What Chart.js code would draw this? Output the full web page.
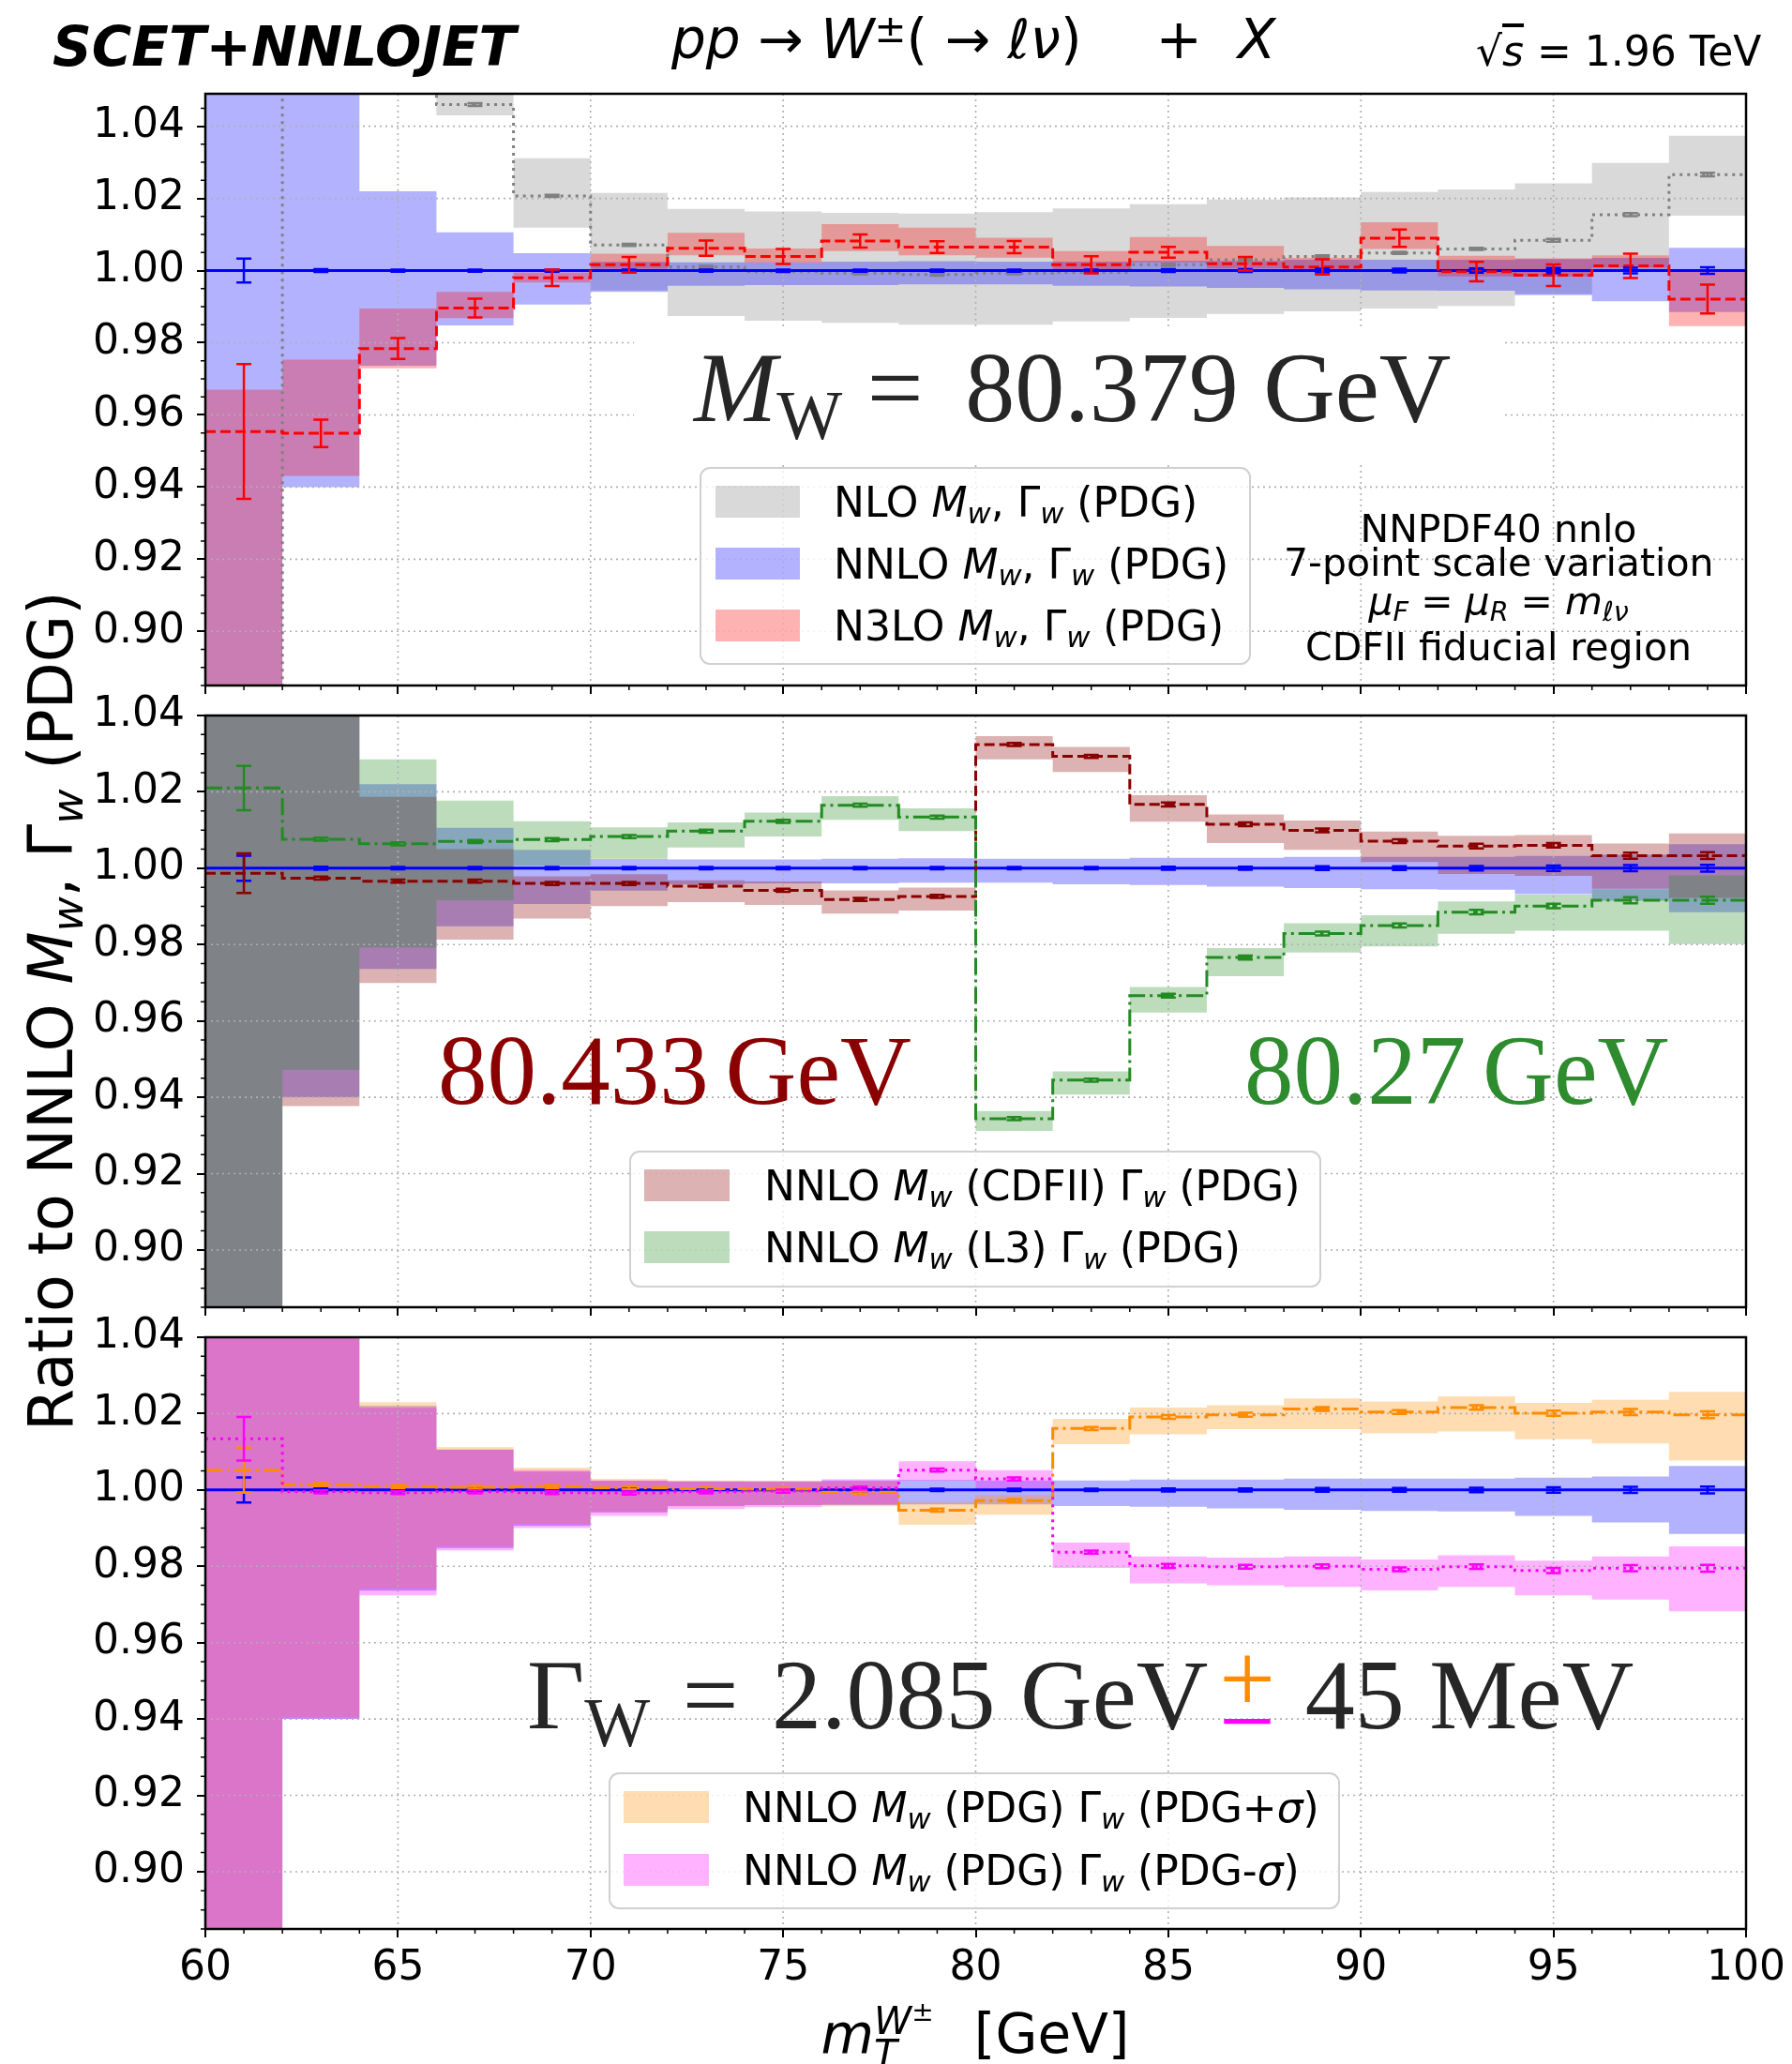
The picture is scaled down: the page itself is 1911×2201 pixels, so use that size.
<!DOCTYPE html>
<html>
<head>
<meta charset="utf-8">
<script src="https://cdn.jsdelivr.net/npm/chart.js@4.4.1/dist/chart.umd.min.js"></script>
<style>
html,body{margin:0;padding:0;background:#fff}
#fig{position:relative;width:1911px;height:2201px;overflow:hidden;background:#fff;font-family:'DejaVu Sans',sans-serif;color:#000}
#fig canvas{position:absolute;left:0}
.txt{position:absolute;white-space:nowrap;line-height:1}
.bl{display:inline-block;width:0;height:0;vertical-align:baseline}
.sub{font-size:0.7em;position:relative;top:0.24em;line-height:0}
.sup{font-size:0.7em;position:relative;top:-0.42em;line-height:0}
.serif{font-family:'Liberation Serif','DejaVu Serif',serif}
.serif .sub{top:0.26em}
.thin{margin-left:0.17em}
.box{position:absolute;box-sizing:border-box}
.legend{border:2px solid #d0d0d0;border-radius:11px;background:rgba(255,255,255,0.8)}
.stk{display:inline-block;position:relative;height:0;vertical-align:baseline}
.stk>i{position:absolute;left:0;line-height:1;font-size:40.6px}
</style>
</head>
<body>
<div id="fig"></div>
<script>
// ---------- binning and axis ticks ----------
const binEdges   = [60,62,64,66,68,70,72,74,76,78,80,82,84,86,88,90,92,94,96,98,100];
const binCenters = [61,63,65,67,69,71,73,75,77,79,81,83,85,87,89,91,93,95,97,99];
const xTickValues = [60,65,70,75,80,85,90,95,100];
const yTickValues = [0.90,0.92,0.94,0.96,0.98,1.00,1.02,1.04];

// ---------- NNLO, M_W and Gamma_W from PDG (reference) ----------
const nnloCentral = [1,1,1,1,1,1,1,1,1,1,1,1,1,1,1,1,1,1,1,1];
const nnloLow  = [0.800,0.940,0.9736,0.9848,0.9906,0.9941,0.9958,0.9960,0.9960,0.9962,0.9962,0.9958,0.9956,0.9952,0.9948,0.9945,0.9944,0.9932,0.9915,0.9885];
const nnloHigh = [1.100,1.070,1.0220,1.0106,1.0048,1.0024,1.0023,1.0023,1.0025,1.0026,1.0025,1.0025,1.0027,1.0027,1.0030,1.0030,1.0030,1.0032,1.0035,1.0063];
const nnloStat = [0.0033,0.0004,0.0003,0.0003,0.0003,0.0003,0.0003,0.0003,0.0003,0.0003,0.0003,0.0003,0.0004,0.0004,0.0005,0.0005,0.0006,0.0007,0.0008,0.0009];

// ---------- NLO ----------
const nloCentral = [0.800,1.120,1.075,1.046,1.0207,1.0071,1.0010,0.9997,0.9993,0.9989,0.9993,0.9995,1.0016,1.0030,1.0039,1.0049,1.0060,1.0084,1.0155,1.0266];
const nloLow  = [0.750,1.080,1.055,1.043,1.0119,0.9945,0.9874,0.9861,0.9855,0.9850,0.9850,0.9859,0.9869,0.9880,0.9887,0.9895,0.9902,0.9935,1.0000,1.0152];
const nloHigh = [0.850,1.160,1.100,1.065,1.0311,1.0215,1.0171,1.0164,1.0160,1.0158,1.0162,1.0172,1.0184,1.0197,1.0203,1.0218,1.0225,1.0242,1.0298,1.0374];
const nloStat = [0.002,0.001,0.0006,0.0004,0.0003,0.0003,0.0003,0.0003,0.0003,0.0003,0.0003,0.0003,0.0003,0.0003,0.0003,0.0003,0.0003,0.0004,0.0004,0.0005];

// ---------- N3LO ----------
const n3loCentral = [0.9554,0.9549,0.9784,0.9896,0.9980,1.0016,1.0062,1.0039,1.0082,1.0065,1.0065,1.0016,1.0051,1.0019,1.0010,1.0090,0.9997,0.9987,1.0013,0.9921];
const n3loLow  = [0.800,0.9431,0.9729,0.9868,0.9967,1.0005,1.0042,1.0022,1.0054,1.0042,1.0036,1.0003,1.0023,1.0006,1.0002,1.0060,0.9984,0.9984,1.0008,0.9846];
const n3loHigh = [0.967,0.9753,0.9895,0.9941,0.9995,1.0047,1.0105,1.0061,1.0129,1.0119,1.0091,1.0054,1.0093,1.0068,1.0035,1.0134,1.0041,1.0034,1.0042,0.9997];
const n3loStat = [0.0187,0.0038,0.0029,0.0026,0.0023,0.0022,0.0021,0.0021,0.0018,0.0016,0.0017,0.0024,0.0015,0.0019,0.0021,0.0024,0.0027,0.0030,0.0034,0.0040];

// ---------- NNLO, M_W (CDFII) ----------
const cdfCentral = [0.9987,0.9974,0.9966,0.9966,0.9960,0.9960,0.9953,0.9942,0.9918,0.9926,1.0324,1.0293,1.0167,1.0115,1.0099,1.0071,1.0058,1.0060,1.0033,1.0033];
const cdfLow  = [0.850,0.9377,0.9699,0.9813,0.9868,0.9901,0.9911,0.9904,0.9881,0.9889,1.0285,1.0252,1.0122,1.0066,1.0048,1.0016,0.9985,0.9980,0.9946,0.9922];
const cdfHigh = [1.100,1.060,1.0187,1.0050,0.9979,0.9984,0.9968,0.9965,0.9942,0.9949,1.0346,1.0318,1.0191,1.0141,1.0125,1.0096,1.0085,1.0087,1.0065,1.0091];
const cdfStat = [0.0052,0.0004,0.0004,0.0004,0.0004,0.0004,0.0004,0.0004,0.0004,0.0004,0.0004,0.0004,0.0005,0.0005,0.0005,0.0005,0.0006,0.0006,0.0008,0.0009];

// ---------- NNLO, M_W (L3) ----------
const l3Central = [1.0210,1.0076,1.0064,1.0070,1.0075,1.0083,1.0097,1.0123,1.0165,1.0134,0.9344,0.9445,0.9666,0.9766,0.9829,0.9850,0.9885,0.9901,0.9916,0.9916];
const l3Low  = [0.850,0.9472,0.9792,0.9916,1.0007,1.0025,1.0054,1.0083,1.0127,1.0097,0.9312,0.9407,0.9622,0.9717,0.9779,0.9795,0.9828,0.9836,0.9836,0.9801];
const l3High = [1.100,1.060,1.0285,1.0177,1.0123,1.0107,1.0120,1.0146,1.0189,1.0157,0.9364,0.9468,0.9689,0.9791,0.9856,0.9877,0.9913,0.9931,0.9945,0.9981];
const l3Stat = [0.0058,0.0004,0.0004,0.0004,0.0004,0.0004,0.0004,0.0004,0.0004,0.0004,0.0004,0.0004,0.0005,0.0005,0.0005,0.0005,0.0006,0.0006,0.0008,0.0009];

// ---------- NNLO, Gamma_W (PDG + sigma) ----------
const wPlusCentral = [1.0052,1.0014,1.0009,1.0007,1.0009,1.0006,1.0003,1.0002,0.9994,0.9947,0.9972,1.0161,1.0191,1.0197,1.0212,1.0204,1.0216,1.0201,1.0204,1.0197];
const wPlusLow  = [0.850,0.9405,0.9742,0.9852,0.9911,0.9942,0.9957,0.9960,0.9957,0.9909,0.9935,1.0120,1.0146,1.0159,1.0159,1.0148,1.0153,1.0133,1.0122,1.0077];
const wPlusHigh = [1.100,1.070,1.0230,1.0112,1.0058,1.0029,1.0025,1.0024,1.0022,0.9968,0.9987,1.0186,1.0216,1.0222,1.0240,1.0232,1.0245,1.0228,1.0236,1.0257];
const wPlusStat = [0.0059,0.0004,0.0004,0.0004,0.0004,0.0004,0.0004,0.0004,0.0004,0.0004,0.0004,0.0004,0.0005,0.0005,0.0005,0.0005,0.0006,0.0007,0.0008,0.0009];

// ---------- NNLO, Gamma_W (PDG - sigma) ----------
const wMinusCentral = [1.0134,0.9995,0.9993,0.9995,0.9993,0.9992,0.9995,0.9997,1.0005,1.0052,1.0029,0.9837,0.9801,0.9799,0.9800,0.9792,0.9799,0.9789,0.9795,0.9795];
const wMinusLow  = [0.850,0.9400,0.9724,0.9842,0.9900,0.9932,0.9950,0.9955,0.9962,1.0024,0.9999,0.9796,0.9755,0.9750,0.9746,0.9737,0.9746,0.9724,0.9713,0.9682];
const wMinusHigh = [1.100,1.060,1.0215,1.0105,1.0052,1.0025,1.0022,1.0021,1.0028,1.0075,1.0052,0.9862,0.9826,0.9823,0.9826,0.9818,0.9829,0.9815,0.9826,0.9852];
const wMinusStat = [0.0057,0.0004,0.0004,0.0004,0.0004,0.0004,0.0004,0.0004,0.0004,0.0004,0.0004,0.0004,0.0005,0.0005,0.0005,0.0005,0.0006,0.0007,0.0008,0.0009];

// ---------- styles ----------
const FONT = "'DejaVu Sans', sans-serif";
const DOTTED = [3, 5], DASHED = [11, 5], DASHDOT = [18, 5, 3, 5];
const MW = '<i>M</i><span class="sub"><i>w</i></span>';
const GW = 'Γ<span class="sub"><i>w</i></span>';

const nlo  = { label: 'NLO ' + MW + ', ' + GW + ' (PDG)',  central: nloCentral,  low: nloLow,  high: nloHigh,  stat: nloStat,  line: '#808080', band: 'rgba(128,128,128,0.3)', dash: DOTTED };
const nnlo = { label: 'NNLO ' + MW + ', ' + GW + ' (PDG)', central: nnloCentral, low: nnloLow, high: nnloHigh, stat: nnloStat, line: '#0000ff', band: 'rgba(0,0,255,0.3)', dash: [] };
const n3lo = { label: 'N3LO ' + MW + ', ' + GW + ' (PDG)', central: n3loCentral, low: n3loLow, high: n3loHigh, stat: n3loStat, line: '#ff0000', band: 'rgba(255,0,0,0.3)', dash: DASHED };
const cdf  = { label: 'NNLO ' + MW + ' (CDFII) ' + GW + ' (PDG)', central: cdfCentral, low: cdfLow, high: cdfHigh, stat: cdfStat, line: '#8b0000', band: 'rgba(139,0,0,0.3)', dash: DASHED };
const l3   = { label: 'NNLO ' + MW + ' (L3) ' + GW + ' (PDG)',    central: l3Central,  low: l3Low,  high: l3High,  stat: l3Stat,  line: '#228b22', band: 'rgba(34,139,34,0.3)', dash: DASHDOT };
const wPlus  = { label: 'NNLO ' + MW + ' (PDG) ' + GW + ' (PDG+<i>σ</i>)', central: wPlusCentral,  low: wPlusLow,  high: wPlusHigh,  stat: wPlusStat,  line: '#ff8c00', band: 'rgba(255,140,0,0.3)', dash: DASHDOT };
const wMinus = { label: 'NNLO ' + MW + ' (PDG) ' + GW + ' (PDG-<i>σ</i>)', central: wMinusCentral, low: wMinusLow, high: wMinusHigh, stat: wMinusStat, line: '#ff00ff', band: 'rgba(255,0,255,0.3)', dash: DOTTED };

const fig = document.getElementById('fig');

// ---------- chart helpers ----------
function stepPoints(values) {
  return binEdges.map((x, i) => ({ x, y: values[Math.min(i, values.length - 1)] }));
}
function bandSets(s) {
  const base = { stepped: true, borderWidth: 0, borderColor: 'rgba(0,0,0,0)', pointRadius: 0, tension: 0 };
  return [
    Object.assign({ data: stepPoints(s.low), fill: false }, base),
    Object.assign({ data: stepPoints(s.high), fill: '-1', backgroundColor: s.band }, base)
  ];
}
function lineSet(s) {
  return { data: stepPoints(s.central), stepped: true, borderWidth: 3, borderColor: s.line, borderDash: s.dash,
           pointRadius: 0, tension: 0, fill: false };
}

function drawGrid(chart) {
  const { ctx, chartArea: a, scales: { x, y } } = chart;
  ctx.save();
  ctx.strokeStyle = '#b0b0b0'; ctx.lineWidth = 1.6; ctx.setLineDash([2, 4]);
  ctx.beginPath();
  xTickValues.forEach(v => {
    if (v <= x.min || v >= x.max) return;
    const px = x.getPixelForValue(v);
    ctx.moveTo(px, a.top); ctx.lineTo(px, a.bottom);
  });
  yTickValues.forEach(v => {
    if (v <= y.min || v >= y.max) return;
    const py = y.getPixelForValue(v);
    ctx.moveTo(a.left, py); ctx.lineTo(a.right, py);
  });
  ctx.stroke();
  ctx.restore();
}

function drawErrorBars(chart, series) {
  const { ctx, chartArea: a, scales: { x, y } } = chart;
  const cap = 8;
  ctx.save();
  ctx.beginPath(); ctx.rect(a.left, a.top, a.right - a.left, a.bottom - a.top); ctx.clip();
  ctx.setLineDash([]); ctx.lineWidth = 2.5;
  series.forEach(s => {
    ctx.strokeStyle = s.line;
    ctx.beginPath();
    s.central.forEach((c, i) => {
      const px = x.getPixelForValue(binCenters[i]);
      const y1 = y.getPixelForValue(c - s.stat[i]);
      const y2 = y.getPixelForValue(c + s.stat[i]);
      ctx.moveTo(px, y1); ctx.lineTo(px, y2);
      ctx.moveTo(px - cap, y1); ctx.lineTo(px + cap, y1);
      ctx.moveTo(px - cap, y2); ctx.lineTo(px + cap, y2);
    });
    ctx.stroke();
  });
  ctx.restore();
}

function drawMinorTicksAndFrame(chart) {
  const { ctx, chartArea: a, scales: { x, y } } = chart;
  ctx.save();
  ctx.strokeStyle = '#000'; ctx.setLineDash([]); ctx.lineWidth = 1.5;
  ctx.beginPath();
  for (let k = Math.ceil(y.min / 0.005 - 1e-6); k * 0.005 <= y.max + 1e-6; k++) {
    if (k % 4 === 0) continue;
    const py = y.getPixelForValue(k * 0.005);
    ctx.moveTo(a.left - 5, py); ctx.lineTo(a.left, py);
  }
  for (let v = Math.ceil(x.min); v <= x.max; v++) {
    if (v % 5 === 0) continue;
    const px = x.getPixelForValue(v);
    ctx.moveTo(px, a.bottom); ctx.lineTo(px, a.bottom + 5);
  }
  ctx.stroke();
  ctx.lineWidth = 2.5;
  ctx.strokeRect(a.left, a.top, a.right - a.left, a.bottom - a.top);
  ctx.restore();
}

function makePanel(p) {
  const canvas = document.createElement('canvas');
  canvas.width = 1911; canvas.height = p.height;
  canvas.style.top = p.top + 'px';
  canvas.style.width = '1911px'; canvas.style.height = p.height + 'px';
  fig.appendChild(canvas);

  const datasets = [];
  p.series.forEach(s => datasets.push(...bandSets(s)));
  const firstLine = datasets.length;
  p.series.forEach(s => datasets.push(lineSet(s)));
  // lower index is painted first
  datasets.forEach((d, i) => { d.order = datasets.length - i; });

  const tickFont = { family: FONT, size: 44 };
  const gridOpts = { drawOnChartArea: false, drawTicks: true, tickLength: 9, tickWidth: 2, tickColor: '#000', lineWidth: 2, color: '#000' };

  new Chart(canvas, {
    type: 'line',
    data: { datasets },
    options: {
      responsive: false, animation: false, devicePixelRatio: 1, events: [],
      layout: { padding: { top: p.padTop, right: 49, bottom: 0, left: 0 } },
      plugins: { legend: { display: false }, tooltip: { enabled: false } },
      scales: {
        x: {
          type: 'linear', min: 60, max: 100,
          afterBuildTicks: s => { s.ticks = xTickValues.map(v => ({ value: v })); },
          afterFit: s => { s.height = p.xAxisH; },
          ticks: { display: p.showX, autoSkip: false, maxRotation: 0, minRotation: 0, padding: 7, color: '#000', font: tickFont, callback: v => String(v) },
          grid: gridOpts, border: { display: false }
        },
        y: {
          type: 'linear', min: p.yMin, max: p.yMax,
          afterBuildTicks: s => { s.ticks = yTickValues.map(v => ({ value: v })); },
          afterFit: s => { s.width = 219; },
          ticks: { autoSkip: false, padding: 13, color: '#000', font: tickFont, callback: v => Number(v).toFixed(2) },
          grid: gridOpts, border: { display: false }
        }
      }
    },
    plugins: [{
      id: 'panelDecor',
      beforeDatasetDraw(chart, args) { if (args.index === firstLine) drawGrid(chart); },
      afterDatasetsDraw(chart) { drawErrorBars(chart, p.series); },
      afterDraw(chart) { drawMinorTicksAndFrame(chart); }
    }]
  });
}

makePanel({ top: 0,    height: 771, padTop: 100, xAxisH: 40, yMin: 0.885, yMax: 1.049, showX: false, series: [nlo, nnlo, n3lo] });
makePanel({ top: 723,  height: 711, padTop: 40,  xAxisH: 40, yMin: 0.885, yMax: 1.040, showX: false, series: [nnlo, cdf, l3] });
makePanel({ top: 1386, height: 770, padTop: 40,  xAxisH: 99, yMin: 0.885, yMax: 1.040, showX: true,  series: [nnlo, wPlus, wMinus] });

// ---------- text ----------
function putText(html, x, baseline, o) {
  const el = document.createElement('div');
  el.className = 'txt' + (o.cls ? ' ' + o.cls : '');
  el.style.fontSize = o.size + 'px';
  if (o.color) el.style.color = o.color;
  if (o.weight) el.style.fontWeight = o.weight;
  if (o.italic) el.style.fontStyle = 'italic';
  el.innerHTML = html + '<span class="bl"></span>';
  el.style.left = '0px'; el.style.top = '0px';
  fig.appendChild(el);
  const b = el.querySelector('.bl').offsetTop;
  const w = el.offsetWidth;
  let left = x;
  if (o.align === 'center') left = x - w / 2;
  else if (o.align === 'right') left = x - w;
  el.style.left = left + 'px';
  el.style.top = (baseline - b) + 'px';
  return { el, left, top: baseline - b };
}

function addBox(cls, l, t, r, b, bg) {
  const d = document.createElement('div');
  d.className = 'box ' + cls;
  Object.assign(d.style, { left: l + 'px', top: t + 'px', width: (r - l) + 'px', height: (b - t) + 'px' });
  if (bg) d.style.background = bg;
  fig.appendChild(d);
  return d;
}

function buildLegend(g, series) {
  addBox('legend', g.left, g.top, g.right, g.bottom);
  series.forEach((s, i) => {
    const cy = g.rows[i];
    addBox('', g.swX, cy - 17, g.swX + g.swW, cy + 17, s.band);
    putText(s.label, g.textX, cy + 16, { size: 44 });
  });
}

// header
putText('SCET+NNLOJET', 56, 70, { size: 58, weight: 'bold', italic: true });
putText('<i>pp</i> → <i>W</i><span class="sup">±</span>( → <i>ℓν</i>)', 716, 62, { size: 58 });
putText('+', 1257, 62, { size: 59, align: 'center' });
putText('<i>X</i>', 1320, 62, { size: 59 });
putText('√<i style="text-decoration:overline">s</i> = 1.96 TeV', 1878, 70, { size: 44, align: 'right' });

// axis titles
const yl = putText('Ratio to NNLO ' + MW + ', ' + GW + ' (PDG)', 77, 1078, { size: 65, align: 'center' });
yl.el.style.transformOrigin = (77 - yl.left) + 'px ' + (1078 - yl.top) + 'px';
yl.el.style.transform = 'rotate(-90deg)';
putText('<i>m</i><span class="stk" style="width:70px"><i style="top:-54px">W<span style="font-size:28px;position:relative;top:-14px;line-height:0">±</span></i><i style="top:-19px">T</i></span>&nbsp;&nbsp;[GeV]',
        1040, 2189, { size: 58, align: 'center' });

// top panel annotations
addBox('', 676, 350, 1604, 493, '#fff');
putText('<i>M</i><span class="sub">W</span> = <span style="margin-left:18px">80.379</span> GeV', 740, 449, { size: 106, cls: 'serif', color: '#262626' });
buildLegend({ left: 746, top: 498, right: 1334, bottom: 709, swX: 763, swW: 90, textX: 889, rows: [535, 601, 667] }, [nlo, nnlo, n3lo]);
putText('NNPDF40 nnlo', 1598, 578, { size: 41, align: 'center' });
putText('7-point scale variation', 1598, 614, { size: 41, align: 'center' });
putText('<i>μ</i><span class="sub"><i>F</i></span> = <i>μ</i><span class="sub"><i>R</i></span> = <i>m</i><span class="sub"><i>ℓν</i></span>', 1598, 655, { size: 41, align: 'center' });
putText('CDFII fiducial region', 1598, 704, { size: 41, align: 'center' });

// middle panel annotations
putText('80.433<span class="thin">GeV</span>', 467, 1177, { size: 105, cls: 'serif', color: '#8b0000' });
putText('80.27<span class="thin">GeV</span>', 1327, 1177, { size: 105, cls: 'serif', color: '#2e8b2e' });
buildLegend({ left: 671, top: 1227, right: 1409, bottom: 1373, swX: 687, swW: 91, textX: 815, rows: [1264, 1330] }, [cdf, l3]);

// bottom panel annotations
putText('Γ<span class="sub">W</span> <span style="margin-left:8px">=</span> <span style="margin-left:9px">2.085</span> GeV' +
        '<span style="display:inline-block;position:relative;top:-0.16em;margin:0 0.05em 0 12px">' +
        '<span style="color:#ff8c00">+</span><span style="color:#ff00ff;position:absolute;left:0;top:0.42em">−</span></span> 45 MeV',
        562, 1843, { size: 106, cls: 'serif', color: '#262626' });
buildLegend({ left: 649, top: 1890, right: 1429, bottom: 2036, swX: 665, swW: 91, textX: 792, rows: [1927, 1994] }, [wPlus, wMinus]);
</script>
</body>
</html>
